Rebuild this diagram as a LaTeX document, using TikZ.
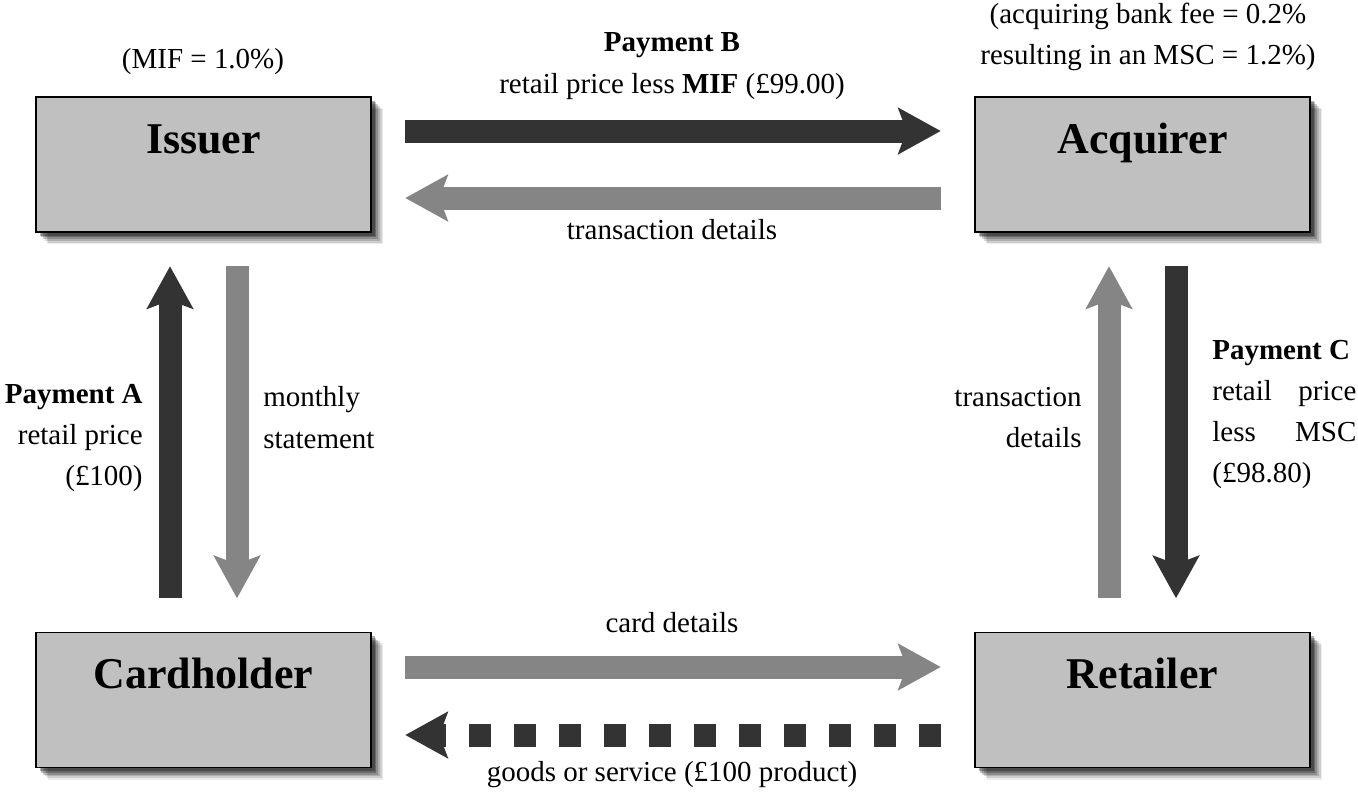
\documentclass[tikz,border=0pt]{standalone}
\usepackage{fontspec}
\setmainfont{Liberation Serif}
\usetikzlibrary{arrows.meta,shadows}

\definecolor{boxgray}{HTML}{C0C0C0}
\definecolor{paydark}{HTML}{333333}
\definecolor{infogray}{HTML}{858585}

\begin{document}
\begin{tikzpicture}
  \tikzstyle{party} = [draw=black, line width=1pt, fill=boxgray, minimum width=6.7cm,
    inner xsep=0pt, inner ysep=0pt, text height=1.12cm, text depth=1.58cm,
    font=\bfseries\fontsize{25}{30}\selectfont,
    drop shadow={shadow xshift=7pt, shadow yshift=-7pt, fill=black, opacity=.08},
    drop shadow={shadow xshift=6pt, shadow yshift=-6pt, fill=black, opacity=.12},
    drop shadow={shadow xshift=5pt, shadow yshift=-5pt, fill=black, opacity=.15},
    drop shadow={shadow xshift=4pt, shadow yshift=-4pt, fill=black, opacity=.2},
    drop shadow={shadow xshift=3pt, shadow yshift=-3pt, fill=black, opacity=.25},
    drop shadow={shadow xshift=2pt, shadow yshift=-2pt, fill=black, opacity=.3}]
  \tikzstyle{note} = [inner sep=0pt, font=\fontsize{16.5}{23.5}\selectfont]
  \tikzstyle{money} = [paydark, line width=0.46cm,
    -{Stealth[length=0.86cm, width=0.95cm, inset=0.18cm, line width=0pt]},
    shorten <=0.67cm, shorten >=0.67cm]
  \tikzstyle{info} = [money, infogray]
  \tikzstyle{goods} = [money, dash pattern=on 0.44cm off 0.46cm]

  \useasboundingbox (0,0) rectangle (27.16,-16.02);

  \node[party] (iss) at (4.07,-3.29) {Issuer};
  \node[party] (acq) at (22.85,-3.29) {Acquirer};
  \node[party] (chd) at (4.07,-14.0) {Cardholder};
  \node[party] (ret) at (22.85,-14.0) {Retailer};

  \node[note] (mif) at (4.06,-1.24) {(MIF = 1.0\%)};
  \node[note, align=center] (payb) at (13.44,-1.32) {\textbf{Payment B}\\retail price less \textbf{MIF} (£99.00)};
  \node[note, align=center] (fee) at (22.96,-0.74) {(acquiring bank fee = 0.2\%\\resulting in an MSC = 1.2\%)};
  \node[note] (tdtop) at (13.44,-4.6) {transaction details};
  \node[note, align=right, anchor=east] (paya) at (2.86,-8.76) {\textbf{Payment A}\\retail price\\(£100)};
  \node[note, align=left, anchor=west] (stmt) at (5.26,-8.35) {monthly\\statement};
  \node[note, align=right, anchor=east] (tdright) at (21.64,-8.35) {transaction\\details};
  \node[note, align=left, anchor=west] (payc) at (24.24,-8.29) {\textbf{Payment C}\\\makebox[2.88cm][s]{retail price}\\\makebox[2.88cm][s]{less MSC}\\(£98.80)};
  \node[note] (card) at (13.44,-12.46) {card details};
  \node[note] (goodstxt) at (13.44,-15.5) {goods or service (£100 product)};

  \draw[money] ([yshift=0.67cm]iss.east) -- ([yshift=0.67cm]acq.west);
  \draw[info] ([yshift=-0.67cm]acq.west) -- ([yshift=-0.67cm]iss.east);

  \draw[money] ([xshift=-0.67cm]chd.north) -- ([xshift=-0.67cm]iss.south);
  \draw[info] ([xshift=0.67cm]iss.south) -- ([xshift=0.67cm]chd.north);

  \draw[info] ([xshift=-0.67cm]ret.north) -- ([xshift=-0.67cm]acq.south);
  \draw[money] ([xshift=0.67cm]acq.south) -- ([xshift=0.67cm]ret.north);

  \draw[info] ([yshift=0.66cm]chd.east) -- ([yshift=0.66cm]ret.west);
  \draw[goods] ([yshift=-0.7cm]ret.west) -- ([yshift=-0.7cm]chd.east);
\end{tikzpicture}
\end{document}
